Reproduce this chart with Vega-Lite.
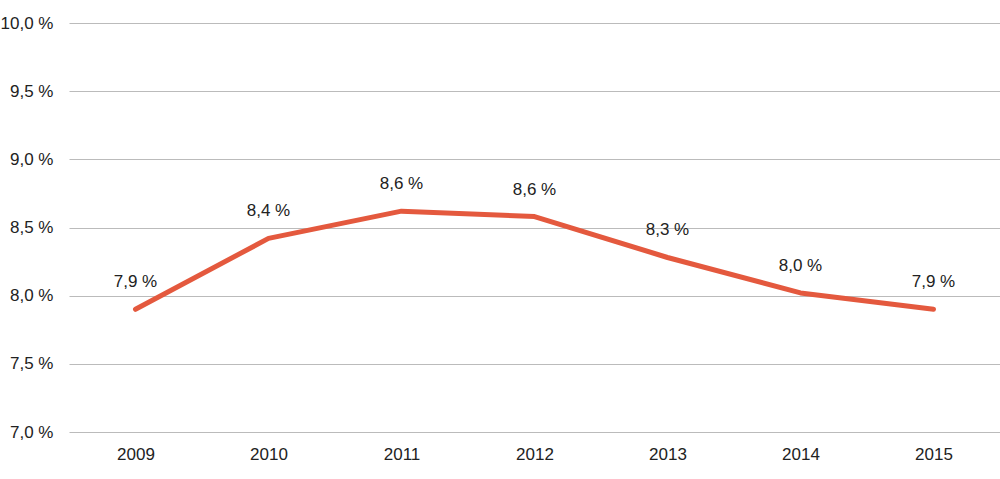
{
  "$schema": "https://vega.github.io/schema/vega-lite/v6.json",
  "autosize": {"type": "none"},
  "padding": {"left": 69, "top": 23, "right": 0, "bottom": 47},
  "width": 931,
  "height": 409,
  "background": "white",
  "config": {
    "view": {"stroke": null},
    "font": "Liberation Sans"
  },
  "data": {
    "values": [
      {"year": "2009", "value": 7.9, "label": "7,9 %"},
      {"year": "2010", "value": 8.42, "label": "8,4 %"},
      {"year": "2011", "value": 8.62, "label": "8,6 %"},
      {"year": "2012", "value": 8.58, "label": "8,6 %"},
      {"year": "2013", "value": 8.28, "label": "8,3 %"},
      {"year": "2014", "value": 8.02, "label": "8,0 %"},
      {"year": "2015", "value": 7.9, "label": "7,9 %"}
    ]
  },
  "encoding": {
    "x": {
      "field": "year", "type": "ordinal",
      "scale": {"paddingInner": 0, "paddingOuter": 0},
      "axis": {
        "title": null, "labelAngle": 0, "domain": false, "ticks": false,
        "labelFontSize": 17, "labelColor": "#222222", "labelPadding": 14, "grid": false
      }
    },
    "y": {
      "field": "value", "type": "quantitative",
      "scale": {"domain": [7, 10], "nice": false, "zero": false},
      "axis": {
        "title": null, "values": [7, 7.5, 8, 8.5, 9, 9.5, 10],
        "labelExpr": "replace(format(datum.value, '.1f'), '.', ',') + ' %'",
        "domain": false, "ticks": false, "labelFontSize": 17, "labelColor": "#222222",
        "labelPadding": 16, "grid": true, "gridColor": "#BBBBBB", "gridWidth": 1
      }
    }
  },
  "layer": [
    {
      "mark": {"type": "line", "color": "#E4593E", "strokeWidth": 5, "strokeCap": "round", "strokeJoin": "round"}
    },
    {
      "mark": {"type": "text", "dy": -27, "fontSize": 17, "color": "#222222", "baseline": "middle"},
      "encoding": {"text": {"field": "label"}}
    }
  ]
}
